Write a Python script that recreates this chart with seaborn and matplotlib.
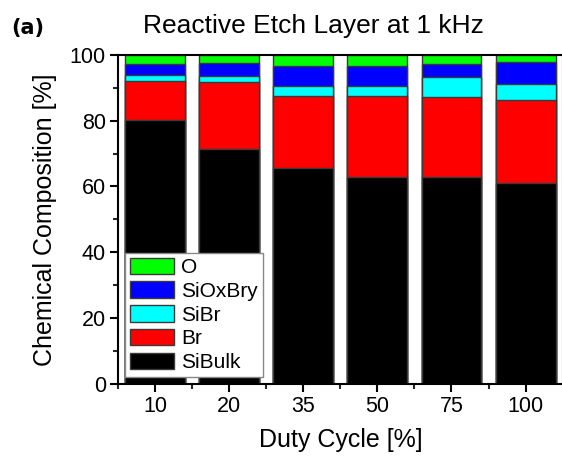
import numpy as np
import pandas as pd
import matplotlib
matplotlib.use("Agg")
import matplotlib.pyplot as plt
import seaborn as sns
from matplotlib.patches import Patch
from matplotlib.ticker import MultipleLocator, FixedLocator

duty_cycle = ["10", "20", "35", "50", "75", "100"]
si_bulk = [80.3, 71.4, 65.5, 63.0, 63.0, 61.0]
br = [11.9, 20.3, 22.1, 24.4, 24.2, 25.2]
si_br = [1.8, 2.0, 2.9, 3.1, 6.1, 4.9]
si_ox_br_y = [3.2, 3.8, 6.1, 6.1, 3.9, 6.9]
oxygen = [2.8, 2.5, 3.4, 3.4, 2.8, 2.0]

species = ["SiBulk", "Br", "SiBr", "SiOxBry", "O"]
colors = ["#000000", "#ff0000", "#00ffff", "#0000ff", "#00ff00"]

df = pd.DataFrame({
    "Duty": duty_cycle,
    "SiBulk": si_bulk,
    "Br": br,
    "SiBr": si_br,
    "SiOxBry": si_ox_br_y,
    "O": oxygen,
})

sns.set_style("ticks")
plt.rcParams["font.family"] = ["Liberation Sans", "DejaVu Sans"]
plt.rcParams["text.color"] = "black"
plt.rcParams["axes.labelcolor"] = "black"

fig = plt.figure(figsize=(5.62, 4.57), dpi=100)
ax = fig.add_axes([0.2105, 0.1608, 0.7905, 0.7188])

# stacked bars: draw cumulative totals from the top layer down
cum = df[species].cumsum(axis=1)
for name, col in reversed(list(zip(species, colors))):
    sns.barplot(x=df["Duty"], y=cum[name], order=duty_cycle, color=col,
                saturation=1, width=0.81, edgecolor="#3a3a3a", linewidth=1.0,
                ax=ax)

ax.set_xlim(-0.5, 5.5)
ax.set_ylim(0, 100)
ax.yaxis.set_major_locator(MultipleLocator(20))
ax.yaxis.set_minor_locator(MultipleLocator(10))
ax.xaxis.set_minor_locator(FixedLocator(np.arange(-0.5, 6, 1.0)))

for s in ax.spines.values():
    s.set_visible(True)
    s.set_linewidth(1.5)
    s.set_color("black")

ax.tick_params(axis="both", which="major", direction="out", length=6, width=1.5,
               labelsize=15.5, colors="black", pad=3)
ax.tick_params(axis="both", which="minor", direction="out", length=3.5, width=1.5)

ax.set_xlabel("Duty Cycle [%]", fontsize=18, labelpad=8)
ax.set_ylabel("Chemical Composition [%]", fontsize=18, labelpad=9)
fig.text(0.557, 0.943, "Reactive Etch Layer at 1 kHz", fontsize=19,
         ha="center", va="center")

fig.text(0.02, 0.939, "(a)", fontsize=15, fontweight="bold", ha="left",
         va="center", family="DejaVu Sans")

handles = [Patch(facecolor=c, edgecolor="#3a3a3a", linewidth=1.0, label=n)
           for n, c in zip(species, colors)]
leg = ax.legend(handles=handles[::-1], loc="lower left", fontsize=15,
                frameon=True, fancybox=False, framealpha=1, edgecolor="#888888",
                borderaxespad=0.3, handlelength=2.1, handleheight=0.85,
                handletextpad=0.35, labelspacing=0.2, borderpad=0.25)
leg.get_frame().set_linewidth(1.0)

fig.savefig("out.png", dpi=100)
